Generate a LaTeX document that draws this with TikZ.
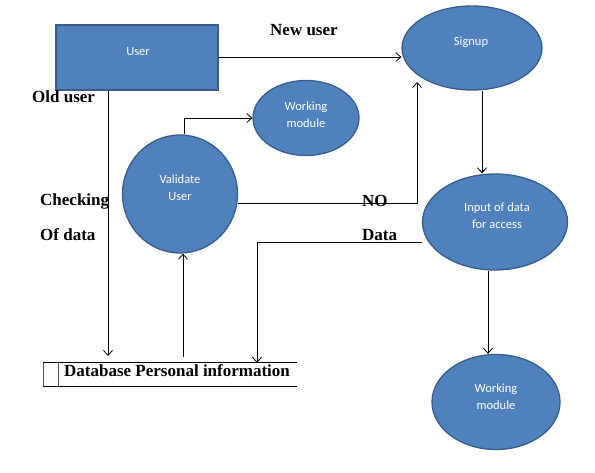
\documentclass[tikz,border=0pt]{standalone}
\usepackage{fontspec}
\setmainfont{Liberation Serif}
\newfontfamily\shapefont{Carlito}
\usetikzlibrary{shapes.geometric,arrows.meta,backgrounds,calc}
\definecolor{fillc}{HTML}{4F81BD}
\definecolor{edgec}{HTML}{385D8A}
\begin{document}
\begin{tikzpicture}[x=1pt,y=-1pt,
  blob/.style={ellipse,draw=edgec,fill=fillc,line width=1.3pt,inner sep=0pt},
  box/.style={rectangle,draw=edgec,fill=fillc,line width=1.3pt,inner sep=0pt},
  intxt/.style={font=\shapefont\fontsize{12.5}{17}\selectfont,text=white,align=center,inner sep=0pt},
  lbl/.style={font=\bfseries\fontsize{17}{20}\selectfont,inner sep=0pt,anchor=base west},
  arr/.style={line width=0.8pt,-{Straight Barb[length=5pt,width=9pt]}},
  ln/.style={line width=0.8pt}]

\useasboundingbox (0,0) rectangle (595,473);

% shapes
\node[box,minimum width=162pt,minimum height=65pt] (user) at (137,57.5) {};
\node[intxt] (userT) at (138,52) {User};
\node[blob,minimum width=140pt,minimum height=84pt] (signup) at (472,48) {};
\node[intxt] (signupT) at (471,42) {Signup};
\node[blob,minimum width=106pt,minimum height=75pt] (wm1) at (306,118) {};
\node[intxt] (wm1T) at (306,115) {Working\\module};
\node[blob,minimum width=115pt,minimum height=118pt] (valid) at (180,194) {};
\node[intxt] (validT) at (180,188) {Validate\\User};
\node[blob,minimum width=145pt,minimum height=96pt] (input) at (495,222) {};
\node[intxt] (inputT) at (497,215.5) {Input of data\\for access};
\node[blob,minimum width=128pt,minimum height=95pt] (wm2) at (496,402) {};
\node[intxt] (wm2T) at (496,396.5) {Working\\module};

% database store
\node[minimum width=254pt,minimum height=23pt,inner sep=0pt] (db) at (170,374.5) {};
\draw[ln] (db.north west) -- (db.north east);
\draw[ln] (db.south west) -- (db.south east);
\draw[edgec,line width=0.5pt] (db.north west) -- (db.south west);
\draw[edgec,line width=0.5pt] ($(db.north west)+(15,0)$) -- ($(db.south west)+(15,0)$);
\node[lbl] (dbT) at (64,377) {Database Personal information};

% labels
\node[lbl] (newuser) at (270,36) {New user};
\node[lbl] (olduser) at (32,103) {Old user};
\node[lbl] (checking) at (40,206) {Checking};
\node[lbl] (ofdata) at (40,241) {Of data};
\node[lbl] (no) at (362,207) {NO};
\node[lbl] (data) at (362,241) {Data};

% free ends
\coordinate (noUp) at (417,82);
\coordinate (oldEnd) at (108,356);
\coordinate (dbUp) at (183,357);

% connectors
\begin{pgfonlayer}{background}
\draw[arr] (user.east |- 0,57) -- (signup.west |- 0,57);
\draw[arr] (user.south -| oldEnd) -- (oldEnd);
\draw[arr] (valid.north -| 184,0) |- (wm1.west);
\draw[arr] (valid.east |- 0,203) -| (noUp);
\draw[arr] (signup.south -| 482,0) -- (input.north -| 482,0);
\draw[arr] (input.west |- 0,242) -| (db.north -| 257,0);
\draw[arr] (dbUp) -- (valid.south -| dbUp);
\draw[arr] (input.south -| 488,0) -- (wm2.north -| 488,0);
\end{pgfonlayer}
\end{tikzpicture}
\end{document}
